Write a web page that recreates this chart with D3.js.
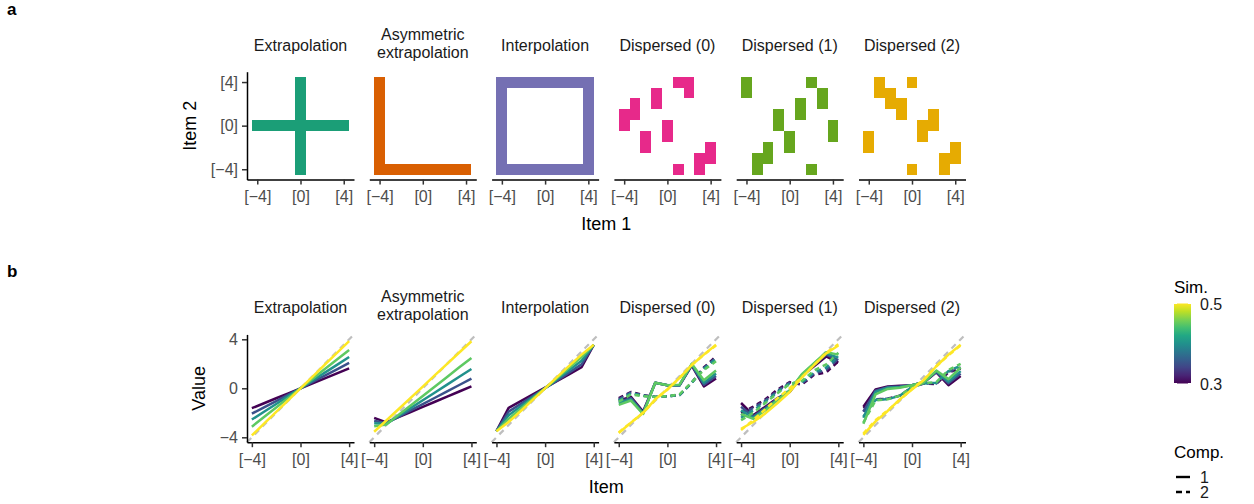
<!DOCTYPE html>
<html>
<head>
<meta charset="utf-8">
<script src="https://cdn.jsdelivr.net/npm/d3@7"></script>
<style>
  body { margin: 0; background: #fff; }
  text { font-family: "Liberation Sans", Arial, sans-serif; }
</style>
</head>
<body>
<script>
// Data
// =================================
var panelTitles = [
  ["Extrapolation"],
  ["Asymmetric", "extrapolation"],
  ["Interpolation"],
  ["Dispersed (0)"],
  ["Dispersed (1)"],
  ["Dispersed (2)"]
];
var tileColors = ["#1B9E77", "#D95F02", "#7570B3", "#E7298A", "#66A61E", "#E6AB02"];

var items = [-4, -3, -2, -1, 0, 1, 2, 3, 4];
var itemTicks = [-4, 0, 4];
var itemTickLabels = ["[\u22124]", "[0]", "[4]"];
var valueTicks = [-4, 0, 4];
var valueTickLabels = ["\u22124", "0", "4"];

// training cells, rows go from Item 2 = 4 (top) down to -4, columns Item 1 = -4 .. 4
var extrapolationGrid = [
  "....#....", "....#....", "....#....", "....#....", "#########",
  "....#....", "....#....", "....#....", "....#...."
];
var asymmetricGrid = [
  "#........", "#........", "#........", "#........", "#........",
  "#........", "#........", "#........", "#########"
];
var interpolationGrid = [
  "#########", "#.......#", "#.......#", "#.......#", "#.......#",
  "#.......#", "#.......#", "#.......#", "#########"
];
var dispersed0Grid = [
  ".....##..", "...#..#..", ".#.#.....", "##.......", "#...#....",
  "..#.#....", "..#.....#", ".......##", ".....#.#."
];
var dispersed1Grid = [
  "#.....#..", "#......#.", ".....#.#.", "...#.#...", "...#....#",
  "....#...#", "..#.#....", ".##......", ".#....#.."
];
var dispersed2Grid = [
  ".#..#....", ".##......", "..##.....", "...#..#..", ".....##..",
  "#....#...", "#.......#", ".......##", "....#..#."
];

// Sim. levels and their estimated values per item (Comp. 1 solid, Comp. 2 dashed)
var simLevels = [0.3, 0.35, 0.4, 0.45, 0.5];

var extrapolationComp1 = [
  [-1.62, -1.22, -0.81, -0.41, 0, 0.41, 0.81, 1.22, 1.62],
  [-2.07, -1.55, -1.04, -0.52, 0, 0.52, 1.04, 1.55, 2.07],
  [-2.55, -1.91, -1.28, -0.64, 0, 0.64, 1.28, 1.91, 2.55],
  [-3.13, -2.35, -1.57, -0.78, 0, 0.78, 1.57, 2.35, 3.13],
  [-3.85, -2.89, -1.93, -0.96, 0, 0.96, 1.93, 2.89, 3.85]
];
var asymmetricComp1 = [
  [-2.42, -2.78, -2.36, -1.94, -1.52, -1.10, -0.68, -0.26, 0.16],
  [-2.65, -2.85, -2.33, -1.81, -1.29, -0.77, -0.25, 0.27, 0.79],
  [-2.85, -2.90, -2.26, -1.62, -0.98, -0.34, 0.30, 0.94, 1.58],
  [-3.10, -2.95, -2.17, -1.40, -0.62, 0.15, 0.93, 1.71, 2.48],
  [-3.55, -2.63, -1.71, -0.78, 0.14, 1.07, 1.99, 2.92, 3.84]
];
var interpolationComp1 = [
  [-3.50, -1.60, -1.05, -0.50, 0.05, 0.60, 1.15, 1.72, 3.55],
  [-3.50, -1.90, -1.27, -0.63, 0.00, 0.65, 1.30, 1.95, 3.55],
  [-3.50, -2.20, -1.47, -0.73, 0.00, 0.75, 1.50, 2.25, 3.55],
  [-3.50, -2.50, -1.67, -0.83, 0.00, 0.85, 1.70, 2.55, 3.55],
  [-3.50, -2.75, -1.85, -0.92, 0.00, 0.93, 1.85, 2.75, 3.55]
];
var dispersed0Comp1 = [
  [-1.00, -0.70, -1.90, 0.45, 0.25, 0.25, 1.85, 0.15, 0.80],
  [-1.10, -0.80, -2.00, 0.45, 0.25, 0.25, 1.90, 0.30, 1.00],
  [-1.20, -0.90, -2.05, 0.45, 0.25, 0.25, 1.95, 0.45, 1.20],
  [-1.35, -1.00, -2.10, 0.45, 0.25, 0.30, 2.00, 0.65, 1.45],
  [-3.65, -2.80, -2.00, -0.90, -0.10, 0.85, 1.90, 2.75, 3.55]
];
var dispersed0Comp2 = [
  [-0.80, -0.30, -0.55, -0.70, -0.65, -0.55, 0.45, 1.70, 2.60],
  [-0.90, -0.35, -0.60, -0.70, -0.65, -0.55, 0.45, 1.65, 2.50],
  [-1.00, -0.40, -0.60, -0.70, -0.65, -0.55, 0.45, 1.60, 2.40],
  [-1.10, -0.50, -0.65, -0.70, -0.65, -0.50, 0.50, 1.50, 2.20],
  [-3.60, -2.80, -2.00, -0.95, -0.10, 0.85, 1.90, 2.75, 3.50]
];
var dispersed1Comp1 = [
  [-1.20, -2.20, -1.50, -0.80, -0.30, 1.00, 1.80, 2.60, 2.10],
  [-1.50, -2.30, -1.60, -0.85, -0.25, 1.05, 1.90, 2.75, 2.30],
  [-1.80, -2.40, -1.70, -0.90, -0.20, 1.10, 2.00, 2.85, 2.50],
  [-2.10, -2.50, -1.80, -0.95, -0.15, 1.15, 2.05, 2.95, 2.75],
  [-3.30, -2.75, -2.05, -1.20, -0.30, 0.90, 1.90, 2.85, 3.50]
];
var dispersed1Comp2 = [
  [-2.00, -1.50, -0.90, -0.10, 0.50, 0.30, 1.10, 1.30, 2.20],
  [-2.20, -1.60, -1.00, -0.20, 0.45, 0.40, 1.20, 1.50, 2.40],
  [-2.40, -1.80, -1.10, -0.30, 0.40, 0.50, 1.30, 1.70, 2.60],
  [-2.60, -2.00, -1.20, -0.40, 0.35, 0.60, 1.45, 1.95, 2.90],
  [-3.40, -2.60, -1.70, -0.80, 0.00, 0.90, 1.90, 2.90, 3.60]
];
var dispersed2Comp1 = [
  [-1.50, -0.10, 0.15, 0.20, 0.25, 0.50, 1.30, 0.25, 1.00],
  [-1.90, -0.20, 0.10, 0.15, 0.25, 0.50, 1.35, 0.40, 1.20],
  [-2.40, -0.30, 0.05, 0.10, 0.25, 0.50, 1.40, 0.55, 1.40],
  [-2.90, -0.50, -0.05, 0.05, 0.25, 0.50, 1.45, 0.75, 1.70],
  [-3.80, -2.70, -1.85, -0.90, -0.10, 0.70, 1.80, 2.75, 3.55]
];
var dispersed2Comp2 = [
  [-1.60, -0.90, -0.85, -0.60, 0.10, 0.40, 0.35, 1.30, 1.60],
  [-1.90, -0.90, -0.85, -0.60, 0.10, 0.40, 0.40, 1.35, 1.70],
  [-2.30, -0.95, -0.90, -0.60, 0.10, 0.40, 0.45, 1.40, 1.85],
  [-2.80, -1.00, -0.90, -0.60, 0.10, 0.45, 0.50, 1.50, 2.00],
  [-3.70, -2.60, -1.80, -0.95, -0.05, 0.75, 1.80, 2.70, 3.50]
];

var grids = [extrapolationGrid, asymmetricGrid, interpolationGrid, dispersed0Grid, dispersed1Grid, dispersed2Grid];
var comp1 = [extrapolationComp1, asymmetricComp1, interpolationComp1, dispersed0Comp1, dispersed1Comp1, dispersed2Comp1];
var comp2 = [null, null, null, dispersed0Comp2, dispersed1Comp2, dispersed2Comp2];

// Chart setup
// =================================
var svgWidth = 1254;
var svgHeight = 504;

var panelLeft = 247;
var panelStep = 122.3;
var panelWidth = 107;

var topA = 71.7, heightA = 107.9;
var topB = 334.4, heightB = 107.8;

var svg = d3.select("body")
  .append("svg")
  .attr("width", svgWidth)
  .attr("height", svgHeight);

var xA = d3.scaleLinear().domain([-4.95, 4.95]).range([0, panelWidth]);
var yA = d3.scaleLinear().domain([-4.95, 4.95]).range([heightA, 0]);
var xB = d3.scaleLinear().domain([-4.4, 4.4]).range([0, panelWidth]);
var yB = d3.scaleLinear().domain([-4.4, 4.4]).range([heightB, 0]);
var simColor = d3.scaleSequential(d3.interpolateViridis).domain([0.3, 0.5]);

function styleAxis(g) {
  g.select(".domain").attr("stroke", "#000").attr("stroke-width", 1.5);
  g.selectAll(".tick line").attr("stroke", "#333").attr("stroke-width", 1.5);
  g.selectAll(".tick text")
    .attr("fill", "#4d4d4d")
    .style("font-size", "16px")
    .style("font-family", "'Liberation Sans', Arial, sans-serif");
}

function stripTitle(g, lines) {
  var t = g.append("text")
    .attr("text-anchor", "middle")
    .attr("fill", "#1a1a1a")
    .style("font-size", "16px");
  var base = lines.length === 1 ? -21 : -32;
  lines.forEach(function(l, i) {
    t.append("tspan").attr("x", panelWidth / 2).attr("y", base + i * 18).text(l);
  });
}

// Row a: training cells
// =================================
grids.forEach(function(grid, p) {
  var g = svg.append("g")
    .attr("transform", `translate(${panelLeft + p * panelStep}, ${topA})`);

  var cells = [];
  grid.forEach(function(row, r) {
    row.split("").forEach(function(ch, c) {
      if (ch === "#") cells.push({ x: items[c], y: items[8 - r] });
    });
  });

  g.selectAll("rect")
    .data(cells)
    .enter()
    .append("rect")
    .attr("x", d => xA(d.x - 0.5))
    .attr("y", d => yA(d.y + 0.5))
    .attr("width", xA(0.5) - xA(-0.5))
    .attr("height", yA(-0.5) - yA(0.5))
    .attr("fill", tileColors[p])
    .attr("shape-rendering", "crispEdges");

  var bottomAxis = d3.axisBottom(xA)
    .tickValues(itemTicks)
    .tickFormat((d, i) => itemTickLabels[i])
    .tickSize(5).tickSizeOuter(0).tickPadding(6);
  g.append("g")
    .attr("transform", `translate(0, ${heightA})`)
    .call(bottomAxis)
    .call(styleAxis);

  if (p === 0) {
    var leftAxis = d3.axisLeft(yA)
      .tickValues(itemTicks)
      .tickFormat((d, i) => itemTickLabels[i])
      .tickSize(5).tickSizeOuter(0).tickPadding(4);
    g.append("g").call(leftAxis).call(styleAxis);
  }

  stripTitle(g, panelTitles[p]);
});

// Row b: predicted values
// =================================
var line = d3.line()
  .x((d, i) => xB(items[i]))
  .y(d => yB(d));

comp1.forEach(function(series, p) {
  var g = svg.append("g")
    .attr("transform", `translate(${panelLeft + p * panelStep}, ${topB})`);

  // identity reference
  g.append("line")
    .attr("x1", xB(-4.4)).attr("y1", yB(-4.4))
    .attr("x2", xB(4.4)).attr("y2", yB(4.4))
    .attr("stroke", "#bebebe")
    .attr("stroke-width", 2.2)
    .attr("stroke-dasharray", "6,5");

  simLevels.forEach(function(s, k) {
    g.append("path")
      .attr("d", line(series[k]))
      .attr("fill", "none")
      .attr("stroke", simColor(s))
      .attr("stroke-width", 2.5)
      .attr("stroke-linejoin", "round");
    if (comp2[p]) {
      g.append("path")
        .attr("d", line(comp2[p][k]))
        .attr("fill", "none")
        .attr("stroke", simColor(s))
        .attr("stroke-width", 2.5)
        .attr("stroke-dasharray", "5,4");
    }
  });

  var bottomAxis = d3.axisBottom(xB)
    .tickValues(itemTicks)
    .tickFormat((d, i) => itemTickLabels[i])
    .tickSize(5).tickSizeOuter(0).tickPadding(6);
  g.append("g")
    .attr("transform", `translate(0, ${heightB})`)
    .call(bottomAxis)
    .call(styleAxis);

  if (p === 0) {
    var leftAxis = d3.axisLeft(yB)
      .tickValues(valueTicks)
      .tickFormat((d, i) => valueTickLabels[i])
      .tickSize(5).tickSizeOuter(0).tickPadding(4);
    g.append("g").call(leftAxis).call(styleAxis);
  }

  stripTitle(g, panelTitles[p]);
});

// Titles and tags
// =================================
var plotCenter = panelLeft + (5 * panelStep + panelWidth) / 2;

svg.append("text").attr("x", 7).attr("y", 15)
  .style("font-size", "17px").style("font-weight", "bold").text("a");
svg.append("text").attr("x", 7).attr("y", 277)
  .style("font-size", "17px").style("font-weight", "bold").text("b");

svg.append("text")
  .attr("x", plotCenter).attr("y", 230)
  .attr("text-anchor", "middle").style("font-size", "18px")
  .text("Item 1");
svg.append("text")
  .attr("transform", `translate(196, ${topA + heightA / 2}) rotate(-90)`)
  .attr("text-anchor", "middle").style("font-size", "18px")
  .text("Item 2");

svg.append("text")
  .attr("x", plotCenter).attr("y", 493)
  .attr("text-anchor", "middle").style("font-size", "18px")
  .text("Item");
svg.append("text")
  .attr("transform", `translate(205, ${topB + heightB / 2}) rotate(-90)`)
  .attr("text-anchor", "middle").style("font-size", "18px")
  .text("Value");

// Legends
// =================================
var legend = svg.append("g").attr("transform", "translate(1174, 0)");

legend.append("text").attr("x", 0).attr("y", 293)
  .style("font-size", "17px").text("Sim.");

var defs = svg.append("defs");
var grad = defs.append("linearGradient")
  .attr("id", "simgrad")
  .attr("x1", 0).attr("y1", 1).attr("x2", 0).attr("y2", 0);
d3.range(0, 1.0001, 0.1).forEach(function(t) {
  grad.append("stop").attr("offset", t).attr("stop-color", d3.interpolateViridis(t));
});

var barTop = 303.5, barHeight = 80;
var barScale = d3.scaleLinear().domain([0.3, 0.5]).range([barTop + barHeight, barTop]);
legend.append("rect")
  .attr("x", 0).attr("y", barTop)
  .attr("width", 17).attr("height", barHeight)
  .attr("fill", "url(#simgrad)");

[0.3, 0.5].forEach(function(v) {
  legend.append("line").attr("x1", 0).attr("x2", 3)
    .attr("y1", barScale(v)).attr("y2", barScale(v))
    .attr("stroke", "#fff").attr("stroke-width", 1);
  legend.append("line").attr("x1", 14).attr("x2", 17)
    .attr("y1", barScale(v)).attr("y2", barScale(v))
    .attr("stroke", "#fff").attr("stroke-width", 1);
  legend.append("text")
    .attr("x", 26).attr("y", barScale(v) + 6)
    .style("font-size", "16px").attr("fill", "#1a1a1a")
    .text(v.toFixed(1));
});

legend.append("text").attr("x", 0).attr("y", 458)
  .style("font-size", "17px").text("Comp.");

[["1", null, 477], ["2", "6,4", 492]].forEach(function(k) {
  legend.append("line")
    .attr("x1", 2).attr("x2", 16)
    .attr("y1", k[2]).attr("y2", k[2])
    .attr("stroke", "#000").attr("stroke-width", 2.4)
    .attr("stroke-dasharray", k[1]);
  legend.append("text")
    .attr("x", 26).attr("y", k[2] + 6)
    .style("font-size", "16px").attr("fill", "#1a1a1a")
    .text(k[0]);
});
</script>
</body>
</html>
